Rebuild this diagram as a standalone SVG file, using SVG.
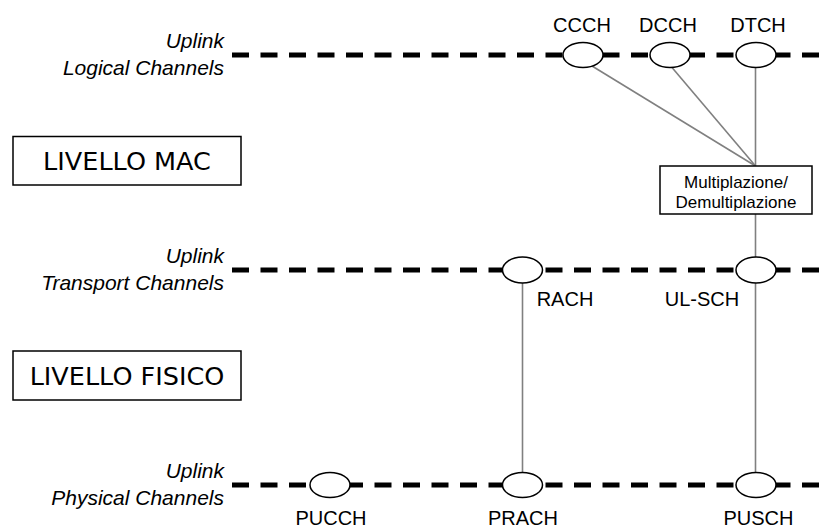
<svg xmlns="http://www.w3.org/2000/svg" width="830" height="527" viewBox="0 0 830 527">
  <style>
    .bus { stroke: #000; stroke-width: 5; stroke-dasharray: 17 11.5; fill: none; }
    .link { stroke: #808080; stroke-width: 1.6; fill: none; }
    .ch { fill: #fff; stroke: #000; stroke-width: 1.5; }
    .box { fill: #fff; stroke: #000; stroke-width: 1.5; }
    .lbl { font-family: "Liberation Sans", Arial, sans-serif; font-size: 20px; fill: #000; text-anchor: middle; }
    .side { font-family: "Liberation Sans", Arial, sans-serif; font-size: 21px; font-style: italic; fill: #000; text-anchor: end; }
    .layer { font-family: "DejaVu Sans", Verdana, sans-serif; font-size: 25.5px; fill: #000; text-anchor: middle; }
    .mux { font-family: "Liberation Sans", Arial, sans-serif; font-size: 17px; fill: #000; text-anchor: middle; }
  </style>

  <!-- channel levels (dashed buses) -->
  <g id="buses">
    <line class="bus" x1="232" y1="55" x2="822" y2="55"/>
    <line class="bus" x1="232" y1="270" x2="822" y2="270"/>
    <line class="bus" x1="232" y1="485" x2="822" y2="485"/>
  </g>

  <!-- level captions -->
  <g id="caption-logical">
    <text class="side" x="224" y="48">Uplink</text>
    <text class="side" x="224" y="74.5">Logical Channels</text>
  </g>
  <g id="caption-transport">
    <text class="side" x="224" y="263">Uplink</text>
    <text class="side" x="224" y="289.5">Transport Channels</text>
  </g>
  <g id="caption-physical">
    <text class="side" x="224" y="478">Uplink</text>
    <text class="side" x="224" y="504.5">Physical Channels</text>
  </g>

  <!-- layer boxes -->
  <g id="layer-mac">
    <rect class="box" x="13" y="136.5" width="228" height="48.5"/>
    <text class="layer" x="127" y="170">LIVELLO MAC</text>
  </g>
  <g id="layer-phy">
    <rect class="box" x="13" y="351" width="228" height="49"/>
    <text class="layer" x="127" y="384.5">LIVELLO FISICO</text>
  </g>

  <!-- connectors -->
  <g id="connectors">
    <line class="link" x1="592" y1="66" x2="755.5" y2="166"/>
    <line class="link" x1="672" y1="67.5" x2="755.5" y2="166"/>
    <line class="link" x1="755.5" y1="67.5" x2="755.5" y2="166"/>
    <line class="link" x1="755.5" y1="214" x2="755.5" y2="258"/>
    <line class="link" x1="522.5" y1="282.5" x2="522.5" y2="473"/>
    <line class="link" x1="755.5" y1="282.5" x2="755.5" y2="473"/>
  </g>

  <!-- multiplexing block -->
  <g id="mux">
    <rect class="box" x="660" y="166" width="152" height="48"/>
    <text class="mux" x="736" y="188">Multiplazione/</text>
    <text class="mux" x="736" y="208">Demultiplazione</text>
  </g>

  <!-- logical channels -->
  <g id="ccch">
    <ellipse class="ch" cx="583" cy="55" rx="20" ry="12.5"/>
    <text class="lbl" x="582" y="32">CCCH</text>
  </g>
  <g id="dcch">
    <ellipse class="ch" cx="670" cy="55" rx="20" ry="12.5"/>
    <text class="lbl" x="668" y="32">DCCH</text>
  </g>
  <g id="dtch">
    <ellipse class="ch" cx="756" cy="55" rx="20" ry="12.5"/>
    <text class="lbl" x="758" y="32">DTCH</text>
  </g>

  <!-- transport channels -->
  <g id="rach">
    <ellipse class="ch" cx="522.5" cy="270" rx="20" ry="13"/>
    <text class="lbl" x="565" y="306">RACH</text>
  </g>
  <g id="ul-sch">
    <ellipse class="ch" cx="756" cy="270" rx="20" ry="13"/>
    <text class="lbl" x="702" y="306">UL-SCH</text>
  </g>

  <!-- physical channels -->
  <g id="pucch">
    <ellipse class="ch" cx="330" cy="485" rx="20" ry="12.5"/>
    <text class="lbl" x="331" y="524.5">PUCCH</text>
  </g>
  <g id="prach">
    <ellipse class="ch" cx="522.5" cy="485" rx="20" ry="12.5"/>
    <text class="lbl" x="523" y="524.5">PRACH</text>
  </g>
  <g id="pusch">
    <ellipse class="ch" cx="756" cy="485" rx="20" ry="12.5"/>
    <text class="lbl" x="758.5" y="524.5">PUSCH</text>
  </g>
</svg>
